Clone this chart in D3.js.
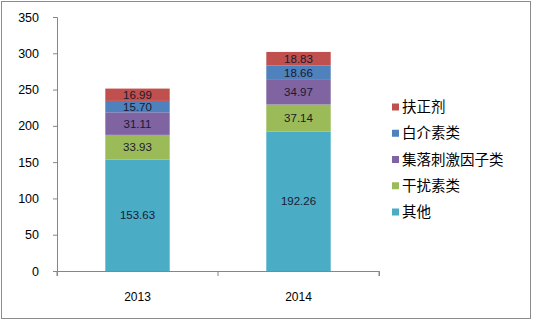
<!DOCTYPE html>
<html>
<head>
<meta charset="utf-8">
<script src="https://cdn.jsdelivr.net/npm/d3@7"></script>
<style>
  body { margin: 0; background: #fff; }
  text { font-family: "Liberation Sans", "DejaVu Sans", sans-serif; }
  .legend text { font-family: "Noto Sans CJK SC", sans-serif; }
</style>
</head>
<body>
<div id="chart"></div>
<script>
var years = ["2013", "2014"];
var series = ["其他", "干扰素类", "集落刺激因子类", "白介素类", "扶正剂"];
var qita = [153.63, 192.26];
var ganrao = [33.93, 37.14];
var jiluo = [31.11, 34.97];
var baijie = [15.70, 18.66];
var fuzheng = [16.99, 18.83];
var yTicks = [0, 50, 100, 150, 200, 250, 300, 350];
var colors = ["#4bacc6", "#9bbb59", "#8064a2", "#4f81bd", "#c0504d"];

var width = 533, height = 321;
var margin = {top: 17, right: 154, bottom: 50, left: 57};

var rows = years.map(function(y, i) {
    return {year: y, "其他": qita[i], "干扰素类": ganrao[i], "集落刺激因子类": jiluo[i], "白介素类": baijie[i], "扶正剂": fuzheng[i]};
});

var svg = d3.select("#chart")
    .append("svg")
    .attr("width", width)
    .attr("height", height);

svg.append("rect")
    .attr("x", 1.5).attr("y", 1.5)
    .attr("width", width - 4).attr("height", height - 4)
    .attr("fill", "#fff")
    .attr("stroke", "#8c8c8c");

var x = d3.scaleBand()
    .domain(years)
    .range([margin.left, width - margin.right])
    .paddingInner(0.6)
    .paddingOuter(0.3);

var y = d3.scaleLinear()
    .domain([0, 350])
    .range([height - margin.bottom, margin.top]);

var stack = d3.stack().keys(series)(rows);

var yAxis = svg.append("g")
    .attr("transform", "translate(" + margin.left + ",0)")
    .call(d3.axisLeft(y).tickValues(yTicks).tickSize(4).tickPadding(14));

var xAxis = svg.append("g")
    .attr("transform", "translate(0," + (height - margin.bottom) + ")")
    .call(d3.axisBottom(x).tickSize(5).tickPadding(16).tickSizeOuter(5));

// category boundary ticks instead of centred ones
xAxis.selectAll(".tick line").remove();
xAxis.selectAll(".bound")
    .data([margin.left, (margin.left + width - margin.right) / 2, width - margin.right])
    .enter().append("line")
    .attr("x1", function(d) { return d; })
    .attr("x2", function(d) { return d; })
    .attr("y1", 0).attr("y2", 5)
    .attr("stroke", "#868686");

[yAxis, xAxis].forEach(function(a) {
    a.select(".domain").attr("stroke", "#868686");
    a.selectAll("line").attr("stroke", "#868686");
    a.selectAll("text").attr("fill", "#000").style("font-size", "12px");
});
yAxis.selectAll("text").style("font-size", "12.5px");

var layer = svg.selectAll(".layer")
    .data(stack)
    .enter().append("g")
    .attr("fill", function(d, i) { return colors[i]; });

layer.selectAll("rect")
    .data(function(d) { return d; })
    .enter().append("rect")
    .attr("x", function(d) { return x(d.data.year); })
    .attr("width", x.bandwidth())
    .attr("y", function(d) { return y(d[1]); })
    .attr("height", function(d) { return y(d[0]) - y(d[1]); });

layer.selectAll("text")
    .data(function(d) { return d; })
    .enter().append("text")
    .attr("x", function(d) { return x(d.data.year) + x.bandwidth() / 2; })
    .attr("y", function(d) { return (y(d[0]) + y(d[1])) / 2; })
    .attr("dy", "0.36em")
    .attr("text-anchor", "middle")
    .attr("fill", "#1a1a2e")
    .style("font-size", "11.5px")
    .text(function(d) { return (d[1] - d[0]).toFixed(2); });

var legendItems = series.slice().reverse();
var legendColors = colors.slice().reverse();
var legend = svg.append("g").attr("class", "legend");
var ly = d3.scalePoint().domain(legendItems).range([107, 212]);

legend.selectAll("rect")
    .data(legendItems)
    .enter().append("rect")
    .attr("x", 392)
    .attr("y", function(d) { return ly(d) - 3.5; })
    .attr("width", 7).attr("height", 7)
    .attr("fill", function(d, i) { return legendColors[i]; });

legend.selectAll("text")
    .data(legendItems)
    .enter().append("text")
    .attr("x", 402)
    .attr("y", function(d) { return ly(d); })
    .attr("dy", "0.36em")
    .style("font-size", "14.5px")
    .attr("fill", "#000")
    .text(function(d) { return d; });
</script>
</body>
</html>
